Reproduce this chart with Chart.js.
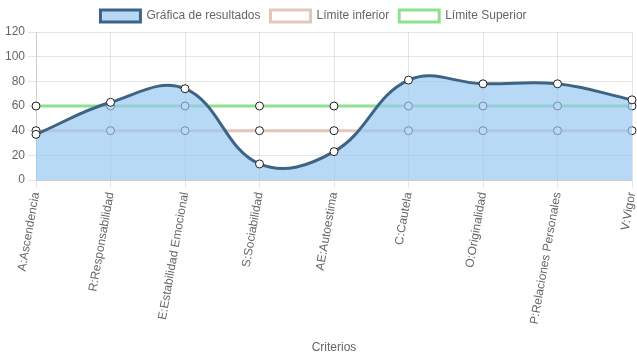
<!DOCTYPE html>
<html>
<head>
<meta charset="utf-8">
<script src="https://cdn.jsdelivr.net/npm/chart.js@4"></script>
<style>
html,body{margin:0;padding:0;background:#fff;}
#wrap{width:637px;height:359px;}
</style>
</head>
<body>
<div id="wrap"><canvas id="c"></canvas></div>
<script>
const categories = ["A:Ascendencia","R:Responsabilidad","E:Estabilidad Emocional","S:Sociabilidad","AE:Autoestima","C:Cautela","O:Originalidad","P:Relaciones Personales","V:Vigor"];
const resultados = [37, 63, 74, 13, 23, 81, 78, 78, 65];
const limiteInferior = [40, 40, 40, 40, 40, 40, 40, 40, 40];
const limiteSuperior = [60, 60, 60, 60, 60, 60, 60, 60, 60];
const yTicks = [0, 20, 40, 60, 80, 100, 120];

Chart.defaults.font.family = "'Liberation Sans', Arial, sans-serif";
Chart.defaults.font.size = 12;
Chart.defaults.color = '#666';

const legendShift = {
  id: 'legendShift',
  beforeDraw(chart) {
    const lg = chart.legend;
    if (lg && !lg._shifted) {
      const orig = lg.draw.bind(lg);
      lg.draw = function (area) {
        const ctx = chart.ctx;
        ctx.save();
        ctx.translate(-5, 0);
        orig(area);
        ctx.restore();
      };
      lg._shifted = true;
    }
  }
};

new Chart(document.getElementById('c'), {
  type: 'line',
  data: {
    labels: categories,
    datasets: [
      {
        label: 'Gráfica de resultados',
        data: resultados,
        backgroundColor: 'rgba(151,199,242,0.68)',
        borderColor: '#3e6485',
        borderWidth: 3,
        fill: true,
        tension: 0.4,
        pointRadius: 4,
        pointBackgroundColor: '#fff',
        pointBorderColor: '#222',
        pointBorderWidth: 1
      },
      {
        label: 'Límite inferior',
        data: limiteInferior,
        backgroundColor: '#fff',
        borderColor: '#e3c7bd',
        borderWidth: 3,
        fill: false,
        tension: 0.4,
        pointRadius: 4,
        pointBackgroundColor: '#fff',
        pointBorderColor: '#222',
        pointBorderWidth: 1
      },
      {
        label: 'Límite Superior',
        data: limiteSuperior,
        backgroundColor: '#fff',
        borderColor: '#8fe08f',
        borderWidth: 3,
        fill: false,
        tension: 0.4,
        pointRadius: 4,
        pointBackgroundColor: '#fff',
        pointBorderColor: '#222',
        pointBorderWidth: 1
      }
    ]
  },
  plugins: [legendShift],
  options: {
    responsive: true,
    maintainAspectRatio: false,
    animation: false,
    layout: { padding: 0 },
    plugins: {
      legend: { labels: { boxWidth: 40, padding: 10 } },
      tooltip: { enabled: false }
    },
    scales: {
      x: {
        title: { display: true, text: 'Criterios' },
        ticks: { maxRotation: 80, minRotation: 80, autoSkip: false },
        grid: { color: 'rgba(0,0,0,0.1)' },
        afterFit: (s) => { s.height = 179; s.paddingRight = 4; s.paddingLeft = 0; }
      },
      y: {
        min: 0, max: 120,
        afterBuildTicks: (axis) => { axis.ticks = yTicks.map(v => ({ value: v })); },
        grid: { color: 'rgba(0,0,0,0.1)' },
        afterFit: (s) => { s.width = 36; }
      }
    }
  }
});
</script>
</body>
</html>
